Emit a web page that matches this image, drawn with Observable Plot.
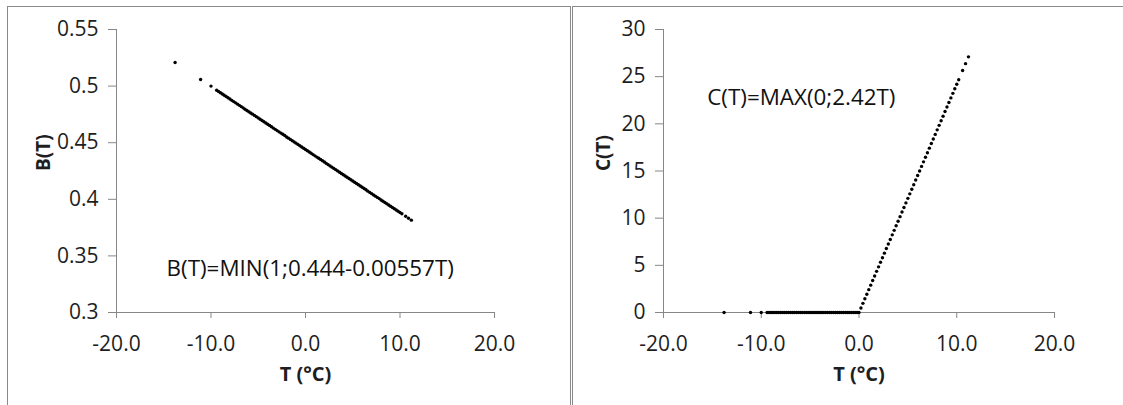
<!DOCTYPE html>
<html><head><meta charset="utf-8">
<script src="https://cdn.jsdelivr.net/npm/d3@7"></script>
<script src="https://cdn.jsdelivr.net/npm/@observablehq/plot@0.6"></script>
<style>
html,body{margin:0;padding:0;background:#fff}
body{width:1123px;height:405px;overflow:hidden;position:relative;font-family:"Open Sans",sans-serif}
.frame{position:absolute;top:6px;height:420px;box-sizing:border-box;border-top:1px solid #8a8a8a;border-left:1px solid #8a8a8a}
#fl{left:7px;width:564px;border-right:1px solid #8a8a8a}
#fr{left:572px;width:560px}
.chart{position:absolute;top:0}
#cl{left:0}
#cr{left:560px}
</style></head>
<body>
<div class="frame" id="fl"></div>
<div class="frame" id="fr"></div>
<div class="chart" id="cl"></div>
<div class="chart" id="cr"></div>
<script>
// Temperature values (°C)
const T = [-13.8, -11.1, -10.0,
  -9.4, -9.2, -9.0, -8.8, -8.6, -8.4, -8.2, -8.0, -7.8, -7.6, -7.4, -7.2, -7.0, -6.8, -6.6, -6.4, -6.2, -6.0,
  -5.8, -5.6, -5.4, -5.2, -5.0, -4.8, -4.6, -4.4, -4.2, -4.0, -3.8, -3.6, -3.4, -3.2, -3.0, -2.8, -2.6, -2.4,
  -2.2, -2.0, -1.8, -1.6, -1.4, -1.2, -1.0, -0.8, -0.6, -0.4, -0.2, 0.0,
  0.2, 0.4, 0.6, 0.8, 1.0, 1.2, 1.4, 1.6, 1.8, 2.0, 2.2, 2.4, 2.6, 2.8, 3.0, 3.2, 3.4, 3.6, 3.8, 4.0,
  4.2, 4.4, 4.6, 4.8, 5.0, 5.2, 5.4, 5.6, 5.8, 6.0, 6.2, 6.4, 6.6, 6.8, 7.0, 7.2, 7.4, 7.6, 7.8, 8.0,
  8.2, 8.4, 8.6, 8.8, 9.0, 9.2, 9.4, 9.6, 9.8, 10.0, 10.2, 10.6, 10.9, 11.2];
// B(T) values
const B = [0.5209, 0.5058, 0.5000,
  0.4964, 0.4952, 0.4941, 0.4930, 0.4919, 0.4908, 0.4897, 0.4886, 0.4874, 0.4863, 0.4852, 0.4841, 0.4830, 0.4819, 0.4808, 0.4796, 0.4785, 0.4774,
  0.4763, 0.4752, 0.4741, 0.4730, 0.4719, 0.4707, 0.4696, 0.4685, 0.4674, 0.4663, 0.4652, 0.4641, 0.4629, 0.4618, 0.4607, 0.4596, 0.4585, 0.4574,
  0.4563, 0.4551, 0.4540, 0.4529, 0.4518, 0.4507, 0.4496, 0.4485, 0.4473, 0.4462, 0.4451, 0.4440,
  0.4429, 0.4418, 0.4407, 0.4395, 0.4384, 0.4373, 0.4362, 0.4351, 0.4340, 0.4329, 0.4317, 0.4306, 0.4295, 0.4284, 0.4273, 0.4262, 0.4251, 0.4239, 0.4228, 0.4217,
  0.4206, 0.4195, 0.4184, 0.4173, 0.4162, 0.4150, 0.4139, 0.4128, 0.4117, 0.4106, 0.4095, 0.4084, 0.4072, 0.4061, 0.4050, 0.4039, 0.4028, 0.4017, 0.4006, 0.3994,
  0.3983, 0.3972, 0.3961, 0.3950, 0.3939, 0.3928, 0.3916, 0.3905, 0.3894, 0.3883, 0.3872, 0.3850, 0.3833, 0.3816];
// C(T) values
const C = [0, 0, 0,
  0, 0, 0, 0, 0, 0, 0, 0, 0, 0, 0, 0, 0, 0, 0, 0, 0, 0,
  0, 0, 0, 0, 0, 0, 0, 0, 0, 0, 0, 0, 0, 0, 0, 0, 0, 0,
  0, 0, 0, 0, 0, 0, 0, 0, 0, 0, 0, 0,
  0.48, 0.97, 1.45, 1.94, 2.42, 2.90, 3.39, 3.87, 4.36, 4.84, 5.32, 5.81, 6.29, 6.78, 7.26, 7.74, 8.23, 8.71, 9.20, 9.68,
  10.16, 10.65, 11.13, 11.62, 12.10, 12.58, 13.07, 13.55, 14.04, 14.52, 15.00, 15.49, 15.97, 16.46, 16.94, 17.42, 17.91, 18.39, 18.88, 19.36,
  19.84, 20.33, 20.81, 21.30, 21.78, 22.26, 22.75, 23.23, 23.72, 24.20, 24.68, 25.65, 26.38, 27.10];

const xTicks = [-20, -10, 0, 10, 20];
const bTicks = [0.3, 0.35, 0.4, 0.45, 0.5, 0.55];
const cTicks = [0, 5, 10, 15, 20, 25, 30];
const xLabel = "T (°C)";
const bLabel = "B(T)";
const cLabel = "C(T)";
const noteB = ["B(T)=MIN(1;0.444-0.00557T)"];
const noteBx = [0.5];
const noteBy = [0.339];
const noteC = ["C(T)=MAX(0;2.42T)"];
const noteCx = [-5.9];
const noteCy = [22.8];

const rows = T.map((t, i) => ({t, b: B[i], c: C[i]}));
const FONT = '"Open Sans", sans-serif';
const AX = "#878787";
const TXT = "#1e1e1e";

function panel({key, yDomain, yTicks, yFmt, yLab, note, nx, ny, mL, mR}) {
  const notes = note.map((s, i) => ({s, x: nx[i], y: ny[i]}));
  return Plot.plot({
    width: 563, height: 405,
    marginLeft: mL, marginRight: mR, marginTop: 29, marginBottom: 93,
    style: {fontFamily: FONT, fontSize: "21px", background: "transparent", overflow: "visible", color: TXT},
    x: {domain: [-20, 20]},
    y: {domain: yDomain},
    marks: [
      Plot.ruleY([yDomain[0]], {stroke: AX, strokeWidth: 1}),
      Plot.ruleX([-20], {stroke: AX, strokeWidth: 1}),
      Plot.axisX({ticks: xTicks, tickFormat: d => d.toFixed(1), tickSize: 6, tickPadding: 18, stroke: AX, fill: TXT, label: null, fontSize: 21}),
      Plot.axisY({ticks: yTicks, tickFormat: yFmt, tickSize: 8, tickPadding: 10, stroke: AX, fill: TXT, label: null, fontSize: 21}),
      Plot.dot(rows, {x: "t", y: key, r: 1.7, fill: "#000", stroke: null}),
      Plot.text(notes, {x: "x", y: "y", text: "s", fontSize: 22.4, fill: "#111"}),
      Plot.text([yLab], {frameAnchor: "left", rotate: -90, dx: -(mL - 43), lineAnchor: "middle", fontWeight: "bold", fontSize: 19, fill: TXT}),
      Plot.text([xLabel], {frameAnchor: "bottom", dy: 62, lineAnchor: "middle", fontWeight: "bold", fontSize: 20, fill: TXT})
    ]
  });
}

document.getElementById("cl").append(panel({
  key: "b", yDomain: [0.3, 0.55], yTicks: bTicks, yFmt: d => String(+d.toFixed(2)),
  yLab: bLabel, note: noteB, nx: noteBx, ny: noteBy, mL: 116, mR: 69
}));
document.getElementById("cr").append(panel({
  key: "c", yDomain: [0, 30], yTicks: cTicks, yFmt: d => String(d),
  yLab: cLabel, note: noteC, nx: noteCx, ny: noteCy, mL: 103, mR: 69
}));
</script>
</body></html>
